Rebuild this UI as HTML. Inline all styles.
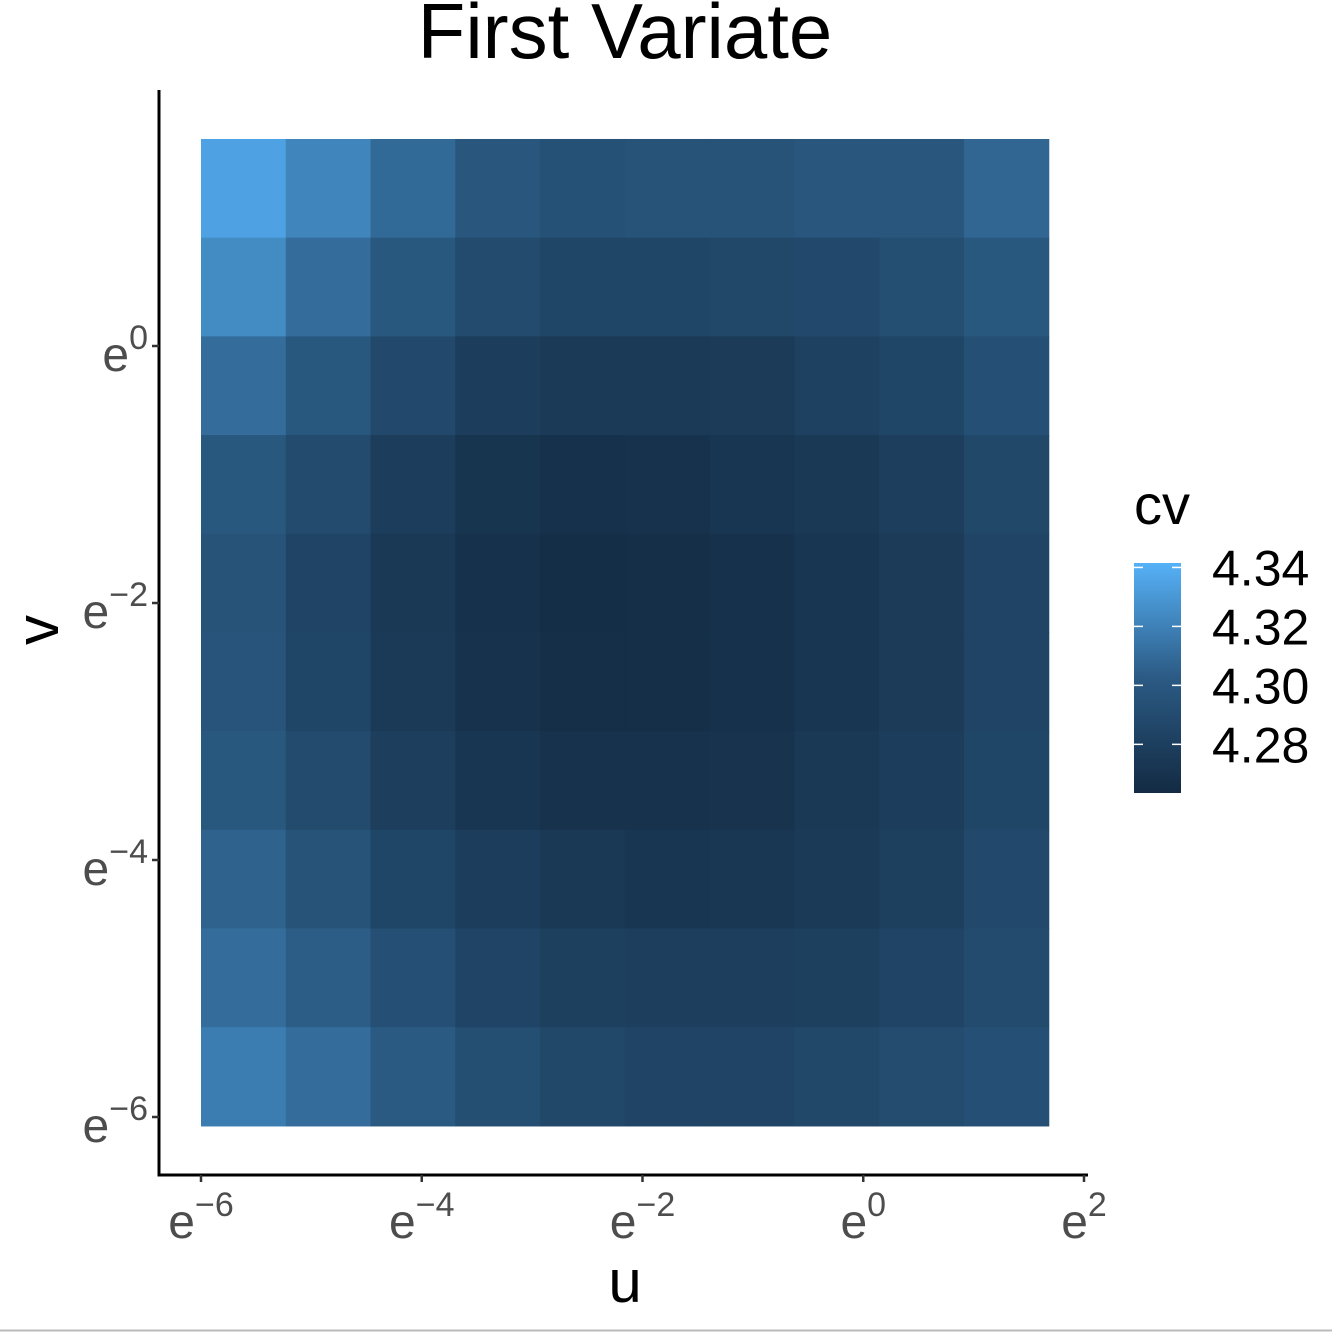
<!DOCTYPE html>
<html><head><meta charset="utf-8"><style>
body{margin:0;background:#fff}
svg{display:block;font-family:"Liberation Sans",sans-serif}
</style></head><body>
<svg id="chart" width="1332" height="1332" xmlns="http://www.w3.org/2000/svg">
<defs><linearGradient id="grad" x1="0" y1="1" x2="0" y2="0">
<stop offset="0" stop-color="#132B43"/><stop offset="0.5" stop-color="#2B5A84"/><stop offset="1" stop-color="#56B1F7"/></linearGradient></defs>
<text x="625" y="58" font-size="78" text-anchor="middle">First Variate</text>
<g id="tiles"></g>
<g id="axes"></g>
<text x="625" y="1302" font-size="60" text-anchor="middle">u</text>
<text transform="translate(58,630) rotate(-90)" font-size="60" text-anchor="middle">v</text>
<text x="1134" y="524" font-size="56">cv</text>
<rect x="1134" y="563" width="47" height="230" fill="url(#grad)"/>
<g id="legend"></g>
<line x1="0" y1="1330.5" x2="1332" y2="1330.5" stroke="#bbb" stroke-width="2"/>
</svg>
<script>
const uLog=[-5.616,-4.848,-4.080,-3.312,-2.544,-1.776,-1.008,-0.240,0.528,1.296];
const vLog=[1.227,0.459,-0.309,-1.077,-1.845,-2.613,-3.381,-4.149,-4.917,-5.685];
const cv=[
[4.334,4.320,4.306,4.295,4.292,4.293,4.293,4.295,4.295,4.304],
[4.323,4.308,4.296,4.288,4.285,4.285,4.286,4.287,4.290,4.296],
[4.308,4.296,4.287,4.279,4.277,4.277,4.278,4.282,4.285,4.291],
[4.296,4.288,4.279,4.273,4.270,4.271,4.274,4.276,4.280,4.286],
[4.293,4.284,4.276,4.270,4.267,4.268,4.270,4.274,4.278,4.284],
[4.294,4.285,4.277,4.271,4.268,4.268,4.270,4.274,4.278,4.284],
[4.296,4.288,4.280,4.274,4.271,4.271,4.272,4.276,4.279,4.285],
[4.302,4.293,4.285,4.279,4.276,4.274,4.275,4.277,4.281,4.287],
[4.308,4.299,4.291,4.284,4.281,4.280,4.280,4.281,4.284,4.288],
[4.316,4.308,4.297,4.290,4.286,4.284,4.284,4.286,4.289,4.291]];
const xTicks=[-6,-4,-2,0,2];
const yTicks=[0,-2,-4,-6];
const legendTicks=[4.34,4.32,4.30,4.28];
const tileW=0.768;
const cMin=4.2635,cMax=4.3415;
const NS="http://www.w3.org/2000/svg";
const X=l=>201+(l+6)*110.375;
const Y=l=>346-l*128.5;
const LY=v=>793-(v-cMin)/(cMax-cMin)*230;
function col(v){let t=Math.max(0,Math.min(1,(v-cMin)/(cMax-cMin)));
t=Math.pow(t,1.25);
const a=[19,43,67],b=[86,177,247];
return `rgb(${a.map((c,i)=>Math.round(c+(b[i]-c)*t)).join(",")})`;}
function mk(tag,attrs,parent){const e=document.createElementNS(NS,tag);for(const k in attrs)e.setAttribute(k,attrs[k]);parent.appendChild(e);return e;}
const tiles=document.getElementById('tiles');
vLog.forEach((vl,r)=>uLog.forEach((ul,c)=>{
 const x0=X(ul-tileW/2),x1=X(ul+tileW/2),y0=Y(vl+tileW/2),y1=Y(vl-tileW/2);
 const e=mk('rect',{x:x0,y:y0,width:x1-x0+0.6,height:y1-y0+0.6,fill:col(cv[r][c])},tiles);
 
 
}));
const ax=document.getElementById('axes');
mk('line',{x1:159,y1:90,x2:159,y2:1176.5,stroke:'#000','stroke-width':3},ax);
mk('line',{x1:157.5,y1:1175,x2:1088,y2:1175,stroke:'#000','stroke-width':3},ax);
xTicks.forEach(t=>{const x=X(t);
 mk('line',{x1:x,y1:1175,x2:x,y2:1182,stroke:'#333','stroke-width':2.5},ax);
 const tx=mk('text',{x:x,y:1238,'font-size':48,fill:'#4d4d4d','text-anchor':'middle'},ax);
 
 
 tx.innerHTML=`e<tspan dy="-22" font-size="34">${t<0?'\u2212'+(-t):t}</tspan>`;
});
yTicks.forEach(t=>{const y=Y(t);
 mk('line',{x1:152,y1:y,x2:159,y2:y,stroke:'#333','stroke-width':2.5},ax);
 const tx=mk('text',{x:148,y:y+25,'font-size':48,fill:'#4d4d4d','text-anchor':'end'},ax);
 
 
 tx.innerHTML=`e<tspan dy="-22" font-size="34">${t<0?'\u2212'+(-t):t}</tspan>`;
});
const lg=document.getElementById('legend');
legendTicks.forEach(v=>{const y=LY(v);
 mk('line',{x1:1134,y1:y,x2:1143,y2:y,stroke:'#fff','stroke-width':1.5},lg);
 mk('line',{x1:1172,y1:y,x2:1181,y2:y,stroke:'#fff','stroke-width':1.5},lg);
 const tx=mk('text',{x:1212,y:y+18,'font-size':50},lg);
 
 
 tx.textContent=v.toFixed(2);
});
</script>
</body></html>
